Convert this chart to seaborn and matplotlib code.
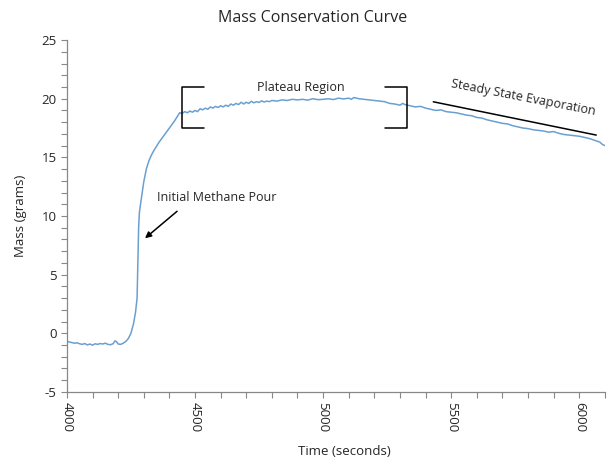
import matplotlib
matplotlib.use('Agg')
import matplotlib.pyplot as plt
from matplotlib.ticker import MultipleLocator
import pandas as pd
import seaborn as sns

# 数据
time_s = [4000, 4010, 4020, 4030, 4040, 4050, 4060, 4070, 4080, 4090,
          4100, 4110, 4120, 4130, 4140, 4150, 4160, 4170, 4180, 4188,
          4195, 4200, 4210, 4220, 4230, 4240, 4250, 4260, 4268, 4274,
          4277, 4280, 4283, 4290, 4300, 4310, 4320, 4330, 4340, 4360, 4380,
          4400, 4420, 4440, 4450, 4460, 4470, 4480, 4490, 4500, 4510, 4520,
          4530, 4540, 4550, 4560, 4570, 4580, 4590, 4600, 4610, 4620, 4630, 4640,
          4650, 4660, 4670, 4680, 4690, 4700, 4710, 4720, 4730, 4740, 4750, 4760,
          4770, 4780, 4790, 4800, 4820, 4840, 4860, 4880, 4900, 4920,
          4940, 4960, 4980, 5000, 5020, 5040, 5060, 5080, 5100, 5110, 5120,
          5140, 5160, 5180, 5200, 5220, 5240, 5260, 5280, 5300, 5310, 5320,
          5340, 5360, 5380, 5400, 5420, 5440, 5460, 5480, 5500, 5520,
          5540, 5560, 5580, 5600, 5620, 5640, 5660, 5680, 5700, 5720,
          5740, 5760, 5780, 5800, 5820, 5840, 5860, 5880, 5900, 5920,
          5940, 5960, 5980, 6000, 6020, 6040, 6060, 6080, 6090, 6100]
mass_g = [-0.68, -0.75, -0.80, -0.85, -0.82, -0.90, -0.95, -0.88, -1.00, -0.92,
          -1.02, -0.90, -0.95, -0.88, -0.92, -0.85, -0.95, -0.98, -0.90, -0.65,
          -0.75, -0.92, -0.95, -0.85, -0.70, -0.45, 0.00, 0.80, 1.80, 3.00,
          6.00, 9.00, 10.30, 11.40, 12.90, 14.00, 14.70, 15.20, 15.60, 16.30, 16.90,
          17.50, 18.10, 18.80, 18.75, 18.90, 18.80, 18.95, 18.85, 19.00, 18.90, 19.15,
          19.05, 19.20, 19.10, 19.30, 19.20, 19.35, 19.25, 19.40, 19.30, 19.45, 19.35, 19.55,
          19.45, 19.60, 19.50, 19.70, 19.55, 19.70, 19.60, 19.78, 19.65, 19.75, 19.68, 19.82,
          19.72, 19.80, 19.75, 19.85, 19.80, 19.90, 19.85, 19.95, 19.90, 19.95,
          19.88, 20.00, 19.92, 19.95, 20.00, 19.93, 20.05, 19.98, 20.05, 19.95, 20.10,
          20.00, 19.95, 19.90, 19.85, 19.80, 19.75, 19.60, 19.55, 19.45, 19.60, 19.50,
          19.40, 19.30, 19.35, 19.20, 19.10, 19.00, 19.05, 18.90, 18.85, 18.80,
          18.70, 18.60, 18.55, 18.40, 18.35, 18.20, 18.10, 18.00, 17.90, 17.85,
          17.70, 17.60, 17.50, 17.45, 17.35, 17.30, 17.25, 17.15, 17.20, 17.05,
          16.95, 16.90, 16.85, 16.80, 16.70, 16.60, 16.45, 16.30, 16.10, 16.00]

x_ticks = [4000, 4500, 5000, 5500, 6000]
y_ticks = [-5, 0, 5, 10, 15, 20, 25]

sns.set_style("white")
plt.rcParams['font.family'] = ['Open Sans', 'DejaVu Sans']

df = pd.DataFrame({'time': time_s, 'mass': mass_g})

fig = plt.figure(figsize=(6.08, 4.61), dpi=100)
ax = fig.add_axes([0.110, 0.150, 0.885, 0.763])

sns.lineplot(data=df, x='time', y='mass', ax=ax, color='#6a9fd2', linewidth=1.1)

ax.set_xlim(4000, 6100)
ax.set_ylim(-5, 25)
ax.set_xticks(x_ticks)
ax.set_yticks(y_ticks)
ax.xaxis.set_minor_locator(MultipleLocator(100))
ax.yaxis.set_minor_locator(MultipleLocator(1))
ax.set_xticklabels([str(t) for t in x_ticks], rotation=270, fontsize=9.5)
ax.set_yticklabels([str(t) for t in y_ticks], fontsize=9.5)
ax.tick_params(axis='both', which='both', direction='out', color='#888888',
               length=4, width=0.8, bottom=True, left=True)
for side in ['top', 'right']:
    ax.spines[side].set_visible(False)
for side in ['left', 'bottom']:
    ax.spines[side].set_color('#888888')
    ax.spines[side].set_linewidth(0.9)

ax.set_xlabel('Time (seconds)', fontsize=9.5)
ax.xaxis.set_label_coords(0.515, -0.150)
ax.set_ylabel('Mass (grams)', fontsize=9.5, labelpad=10)
fig.text(313 / 608, 1 - 18 / 461, 'Mass Conservation Curve', ha='center', va='center',
         fontsize=11.5)

# 注释
ax.text(4914, 21.0, 'Plateau Region', ha='center', va='center', fontsize=9)
ax.plot([4535, 4449, 4449, 4535], [21.0, 21.0, 17.5, 17.5], color='black', lw=1.1)
ax.plot([5242, 5328, 5328, 5242], [21.0, 21.0, 17.5, 17.5], color='black', lw=1.1)

ax.text(5781, 20.1, 'Steady State Evaporation', ha='center', va='center',
        fontsize=9, rotation=-11)
ax.plot([5430, 6066], [19.74, 16.9], color='black', lw=1.1)

ax.text(4586, 11.6, 'Initial Methane Pour', ha='center', va='center', fontsize=9)
ax.annotate('', xy=(4305, 8.1), xytext=(4430, 10.4),
            arrowprops=dict(arrowstyle='-|>', color='black', lw=1.1,
                            mutation_scale=9, shrinkA=0, shrinkB=0))

plt.savefig('out.png', dpi=100)
plt.close()
